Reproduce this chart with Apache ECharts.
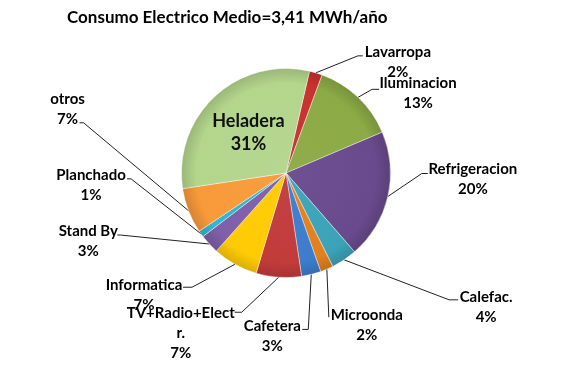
<!DOCTYPE html>
<html>
<head>
<meta charset="utf-8">
<script src="https://cdn.jsdelivr.net/npm/echarts@6/dist/echarts.min.js"></script>
<style>
  html, body { margin: 0; padding: 0; background: #fff; }
  #c { width: 573px; height: 365px; }
</style>
</head>
<body>
<div id="c"></div>
<script>
// ---- data ----
const categories = ['Lavarropa', 'Iluminacion', 'Refrigeracion', 'Calefac.', 'Microonda', 'Cafetera',
  'TV+Radio+Elect r.', 'Informatica', 'Stand By', 'Planchado', 'otros', 'Heladera'];
const values = [2, 13, 20, 4, 2, 3, 7, 7, 3, 1, 7, 31];
const titleText = 'Consumo Electrico Medio=3,41 MWh/año';

// ---- styles ----
const colors = ['#C8312E', '#8CAA45', '#694A8D', '#3BA3B8', '#E3801E', '#3D7DCB',
  '#C23B3B', '#FFCB05', '#7F5FA8', '#35B5CF', '#F89A3A', '#B3D58C'];
// label placement relative to slice edge point: line end offset, tail, text block (center-x, top-y)
const labelPlace = [
  { line: [47, -17], tail: -5, text: [82, -31] },
  { line: [21, -8], tail: -7, text: [60, -24] },
  { line: [40, -23], tail: -6, text: [85, -37] },
  { line: [114, 40], tail: -9, text: [142, 27] },
  { line: [2, 48], tail: 0, text: [40, 36] },
  { line: [-9, 55], tail: 6, text: [-39, 42] },
  { line: [-44, 35], tail: 7, text: [-98, 26] },
  { line: [-52, 23], tail: 9, text: [-91, 11] },
  { line: [-92, -9], tail: 3, text: [-121, -23] },
  { line: [-74, -55], tail: 4, text: [-110, -69] },
  { line: [-109, -88], tail: 4, text: [-121, -122] },
  null
];

const FONT = 'Lato';
const CENTER = [286, 173];
const RADIUS = 104.5;

function shade(hex, f) {
  const n = parseInt(hex.slice(1), 16);
  const ch = [(n >> 16) & 255, (n >> 8) & 255, n & 255].map(c =>
    Math.max(0, Math.min(255, Math.round(f < 0 ? c * (1 + f) : c + (255 - c) * f))));
  return 'rgb(' + ch.join(',') + ')';
}
function fill(hex) {
  return {
    type: 'radial', x: CENTER[0], y: CENTER[1], r: RADIUS, global: true,
    colorStops: [
      { offset: 0, color: shade(hex, 0.04) },
      { offset: 0.86, color: hex },
      { offset: 1, color: shade(hex, -0.14) }
    ]
  };
}

const chart = echarts.init(document.getElementById('c'), null, { renderer: 'canvas' });

const seriesData = categories.map((name, i) => {
  const item = { name: name, value: values[i], itemStyle: { color: fill(colors[i]) } };
  if (i === categories.length - 1) {
    item.label = {
      position: 'inside',
      formatter: p => '{h|' + p.name + '}\n{h|' + Math.round(p.percent) + '%}',
      rich: { h: { fontFamily: FONT, fontWeight: 'bold', fontSize: 18, lineHeight: 23, color: '#111', align: 'center' } }
    };
    item.labelLine = { show: false };
  }
  return item;
});

chart.setOption({
  backgroundColor: '#ffffff',
  animation: false,
  title: {
    text: titleText,
    left: 67, top: 9, padding: 0,
    textStyle: { fontFamily: FONT, fontWeight: 'bold', fontSize: 17, color: '#000' }
  },
  series: [{
    type: 'pie',
    center: CENTER,
    radius: RADIUS,
    startAngle: 77,
    clockwise: true,
    avoidLabelOverlap: false,
    itemStyle: { borderColor: 'rgba(255,255,255,0.5)', borderWidth: 0.8 },
    label: {
      show: true,
      position: 'outside',
      formatter: p => '{n|' + p.name.replace(' r.', '\nr.') + '}\n{n|' + Math.round(p.percent) + '%}',
      rich: { n: { fontFamily: FONT, fontWeight: 'bold', fontSize: 15, lineHeight: 20, color: '#000', align: 'center' } }
    },
    labelLine: { show: true, lineStyle: { color: '#222', width: 1 }, length: 10, length2: 5 },
    labelLayout: function (p) {
      const lp = labelPlace[p.dataIndex];
      if (!lp || !p.labelLinePoints) return {};
      const E = p.labelLinePoints[0];
      const ax = E[0] + lp.line[0], ay = E[1] + lp.line[1];
      return {
        x: E[0] + lp.text[0],
        y: E[1] + lp.text[1],
        align: 'center',
        verticalAlign: 'top',
        labelLinePoints: [[E[0], E[1]], [ax + lp.tail, ay], [ax, ay]]
      };
    },
    data: seriesData
  }]
});
</script>
</body>
</html>
